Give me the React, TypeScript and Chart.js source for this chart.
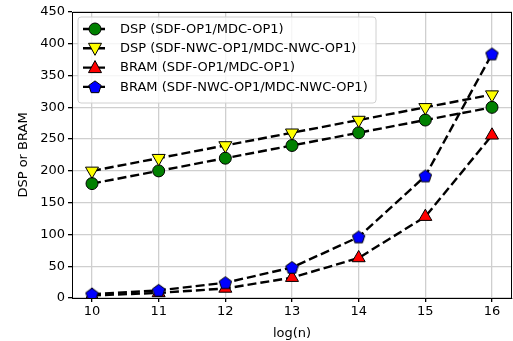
import React, { useEffect, useRef } from "react";
import { Chart, registerables } from "chart.js";
Chart.register(...registerables);

const logN = [10, 11, 12, 13, 14, 15, 16];
const dspOp1 = [180, 200, 220, 240, 260, 280, 300];
const dspNwc = [200, 220, 240, 260, 280, 300, 320];
const bramOp1 = [4, 8, 15, 32, 63, 128, 256];
const bramNwc = [6, 12, 24, 48, 96, 192, 384];
const yTicks = [0, 50, 100, 150, 200, 250, 300, 350, 400, 450];
const labels = [
  "DSP (SDF-OP1/MDC-OP1)",
  "DSP (SDF-NWC-OP1/MDC-NWC-OP1)",
  "BRAM (SDF-OP1/MDC-OP1)",
  "BRAM (SDF-NWC-OP1/MDC-NWC-OP1)",
];

const FONT = "DejaVu Sans";
const DASH = [9, 4];
const LW = 2.4;
const GRID = "#cfcfcf";

function pentagonCanvas(size: number, fill: string) {
  const c = document.createElement("canvas");
  c.width = size;
  c.height = size;
  const ctx = c.getContext("2d")!;
  drawPentagon(ctx, size / 2, size / 2 + 0.5, size / 2 - 1, fill);
  return c;
}

function drawPentagon(ctx: CanvasRenderingContext2D, cx: number, cy: number, r: number, fill: string) {
  ctx.beginPath();
  for (let i = 0; i < 5; i++) {
    const a = -Math.PI / 2 + (i * 2 * Math.PI) / 5;
    const x = cx + r * Math.cos(a);
    const y = cy + r * Math.sin(a);
    if (i === 0) ctx.moveTo(x, y);
    else ctx.lineTo(x, y);
  }
  ctx.closePath();
  ctx.fillStyle = fill;
  ctx.fill();
  ctx.lineWidth = 1;
  ctx.strokeStyle = "#000";
  ctx.stroke();
}

function drawMarker(ctx: CanvasRenderingContext2D, kind: number, x: number, y: number) {
  ctx.save();
  ctx.lineWidth = 1;
  ctx.strokeStyle = "#000";
  ctx.setLineDash([]);
  if (kind === 0) {
    ctx.beginPath();
    ctx.arc(x, y, 6, 0, Math.PI * 2);
    ctx.fillStyle = "green";
    ctx.fill();
    ctx.stroke();
  } else if (kind === 1) {
    ctx.beginPath();
    ctx.moveTo(x - 6.5, y - 5);
    ctx.lineTo(x + 6.5, y - 5);
    ctx.lineTo(x, y + 7);
    ctx.closePath();
    ctx.fillStyle = "yellow";
    ctx.fill();
    ctx.stroke();
  } else if (kind === 2) {
    ctx.beginPath();
    ctx.moveTo(x - 6.5, y + 5);
    ctx.lineTo(x + 6.5, y + 5);
    ctx.lineTo(x, y - 7);
    ctx.closePath();
    ctx.fillStyle = "red";
    ctx.fill();
    ctx.stroke();
  } else {
    drawPentagon(ctx, x, y + 0.5, 6.5, "blue");
  }
  ctx.restore();
}

const framePlugin = {
  id: "frame",
  afterDraw(chart: any) {
    const { ctx, chartArea: a } = chart;
    ctx.save();
    ctx.strokeStyle = "#000";
    ctx.lineWidth = 1;
    ctx.strokeRect(Math.round(a.left) + 0.5, Math.round(a.top) + 0.5, Math.round(a.right - a.left) - 1, Math.round(a.bottom - a.top));
    // legend
    const bx = 78, by = 17, bw = 298, bh = 86;
    ctx.beginPath();
    const r = 3;
    ctx.moveTo(bx + r, by);
    ctx.arcTo(bx + bw, by, bx + bw, by + bh, r);
    ctx.arcTo(bx + bw, by + bh, bx, by + bh, r);
    ctx.arcTo(bx, by + bh, bx, by, r);
    ctx.arcTo(bx, by, bx + bw, by, r);
    ctx.closePath();
    ctx.fillStyle = "rgba(255,255,255,0.8)";
    ctx.fill();
    ctx.strokeStyle = "#d0d0d0";
    ctx.stroke();
    ctx.font = `13px '${FONT}'`;
    ctx.textBaseline = "middle";
    ctx.fillStyle = "#000";
    for (let i = 0; i < 4; i++) {
      const y = 29 + i * 19.3;
      ctx.save();
      ctx.strokeStyle = "#000";
      ctx.lineWidth = LW;
      ctx.setLineDash(DASH);
      ctx.beginPath();
      ctx.moveTo(83, y);
      ctx.lineTo(107, y);
      ctx.stroke();
      ctx.restore();
      drawMarker(ctx, i, 95, y);
      ctx.fillStyle = "#000";
      ctx.fillText(labels[i], 120, y + 0.5);
    }
    ctx.restore();
  },
};

export default function App() {
  const ref = useRef<HTMLCanvasElement>(null);
  useEffect(() => {
    const pent = pentagonCanvas(15, "blue");
    const mk = (data: number[]) => logN.map((x, i) => ({ x, y: data[i] }));
    const common = {
      borderColor: "#000",
      borderWidth: LW,
      borderDash: DASH,
      pointBorderColor: "#000",
      pointBorderWidth: 1,
      showLine: true,
      fill: false,
    };
    const chart = new Chart(ref.current!, {
      type: "scatter",
      data: {
        datasets: [
          { ...common, label: labels[3], data: mk(bramNwc), pointStyle: pent as any, pointRadius: 7, pointBackgroundColor: "blue" },
          { ...common, label: labels[2], data: mk(bramOp1), pointStyle: "triangle", pointRadius: 7.5, pointBackgroundColor: "red" },
          { ...common, label: labels[1], data: mk(dspNwc), pointStyle: "triangle", rotation: 180, pointRotation: 180, pointRadius: 7.5, pointBackgroundColor: "yellow" } as any,
          { ...common, label: labels[0], data: mk(dspOp1), pointStyle: "circle", pointRadius: 6, pointBackgroundColor: "green" },
        ],
      },
      options: {
        responsive: false,
        animation: false,
        layout: { autoPadding: false, padding: { top: 12, right: 1, left: 0, bottom: 0 } } as any,
        plugins: { legend: { display: false }, tooltip: { enabled: false } },
        scales: {
          x: {
            type: "linear",
            min: 9.7,
            max: 16.3,
            afterBuildTicks: (s: any) => { s.ticks = logN.map((v) => ({ value: v })); },
            afterFit: (s: any) => { s.height = 43; },
            grid: { color: GRID, lineWidth: 1.3, tickLength: 4, tickColor: "#000" },
            border: { color: "#000", width: 1 },
            ticks: { color: "#000", font: { family: FONT, size: 13 }, padding: 2, maxRotation: 0 },
            title: { display: true, text: "log(n)", color: "#000", font: { family: FONT, size: 13 }, padding: { top: 0, bottom: 0 } },
          },
          y: {
            type: "linear",
            min: 0,
            max: 450,
            afterBuildTicks: (s: any) => { s.ticks = yTicks.map((v) => ({ value: v })); },
            afterFit: (s: any) => { s.width = 72; },
            grid: { color: GRID, lineWidth: 1.3, tickLength: 4, tickColor: "#000" },
            border: { color: "#000", width: 1 },
            ticks: { color: "#000", font: { family: FONT, size: 13 }, padding: 3 },
            title: { display: true, text: "DSP or BRAM", color: "#000", font: { family: FONT, size: 13 }, padding: { top: 16, bottom: 6 } },
          },
        },
      },
      plugins: [framePlugin],
    });
    return () => chart.destroy();
  }, []);
  return (
    <div style={{ position: "fixed", left: 0, top: 0, width: 513, height: 341, background: "#fff" }}>
      <canvas ref={ref} width={513} height={341} />
    </div>
  );
}
